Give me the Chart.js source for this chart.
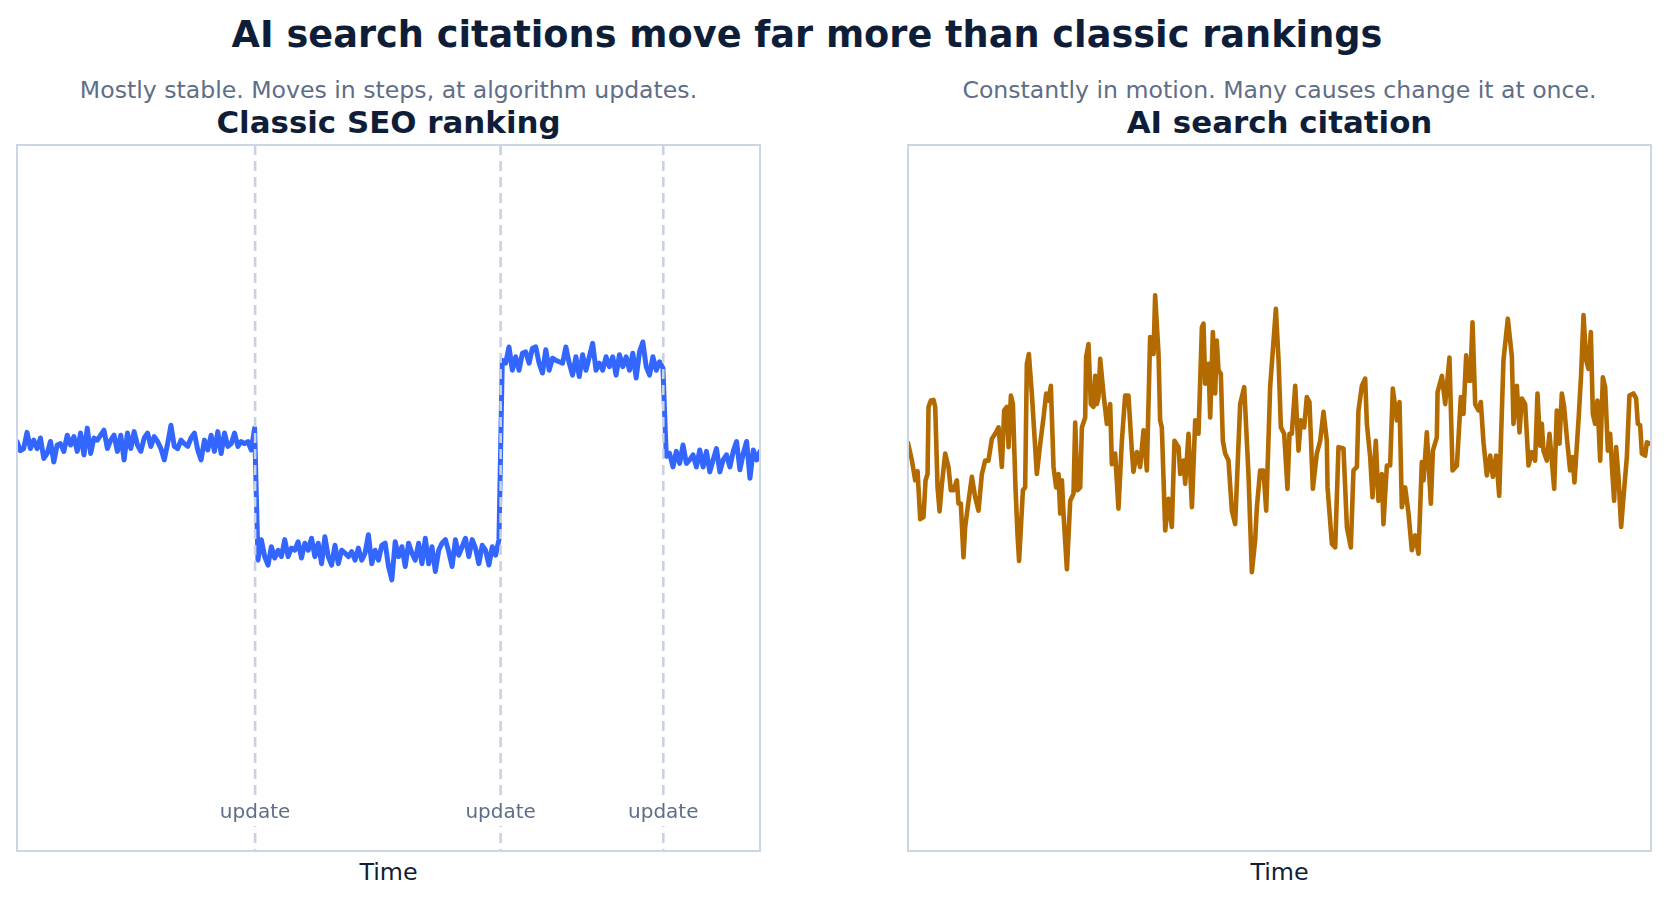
<!DOCTYPE html>
<html>
<head>
<meta charset="utf-8">
<script src="https://cdn.jsdelivr.net/npm/chart.js@4.4.1/dist/chart.umd.min.js"></script>
<style>
  body { margin: 0; width: 1667px; height: 902px; background: #fff; position: relative; overflow: hidden;
         font-family: "DejaVu Sans", sans-serif; }
  .txt { position: absolute; white-space: nowrap; line-height: 1; text-align: center; }
  .title { left: 0; width: 1614px; top: 17px; font-size: 36.7px; font-weight: bold; color: #0f1e38; }
  .sub { top: 79px; font-size: 23.6px; color: #5f6e88; }
  .ptitle { top: 107px; font-size: 30.9px; font-weight: bold; color: #0f1e38; }
  .axis { top: 861px; font-size: 23.8px; color: #0f1e38; }
  .left { left: 0; width: 777px; }
  .right { left: 908px; width: 743px; }
  .box { position: absolute; top: 135px; height: 730px; }
</style>
</head>
<body>
<div class="txt title">AI search citations move far more than classic rankings</div>
<div class="txt sub left">Mostly stable. Moves in steps, at algorithm updates.</div>
<div class="txt sub right">Constantly in motion. Many causes change it at once.</div>
<div class="txt ptitle left">Classic SEO ranking</div>
<div class="txt ptitle right">AI search citation</div>
<div class="txt axis left">Time</div>
<div class="txt axis right">Time</div>
<div class="box" style="left:0;width:780px"><canvas id="classicChart"></canvas></div>
<div class="box" style="left:888px;width:779px"><canvas id="aiChart"></canvas></div>
<script>
// time runs 0..699 on both panels (no tick labels shown)
const timeSpan = 699;
const updateTimes = [224, 455, 608];
const updateLabel = "update";

// classic ranking: four flat stretches split by the updates
const beforeFirstUpdate = [
  58.0, 56.7, 57.0, 59.3, 57.0, 58.2, 57.0, 58.5, 55.6, 56.3,
  58.0, 55.1, 57.5, 57.7, 56.6, 58.9, 57.5, 58.7, 56.6, 59.2,
  56.1, 59.9, 56.3, 58.5, 58.2, 58.9, 59.6, 57.0, 58.2, 58.9,
  56.6, 58.9, 55.4, 59.2, 57.0, 59.4, 57.5, 56.6, 58.5, 59.2,
  57.3, 58.7, 58.0, 57.0, 55.4, 57.7, 60.3, 57.3, 57.0, 58.2,
  57.7, 57.3, 58.5, 59.2, 56.8, 55.4, 58.2, 56.8, 58.9, 56.6,
  59.4, 56.3, 59.2, 57.3, 57.7, 59.2, 57.3, 58.0, 57.7, 58.0,
  56.8, 59.9
];
const afterFirstUpdate = [
  41.2, 44.1, 41.7, 40.5, 43.1, 41.5, 42.6, 41.7, 44.1, 41.7,
  42.9, 42.6, 43.8, 41.5, 43.6, 42.6, 44.3, 41.7, 43.6, 40.7,
  44.5, 41.7, 40.5, 43.3, 40.7, 42.6, 42.2, 41.7, 42.4, 41.2,
  42.9, 41.2, 42.2, 44.8, 40.7, 42.6, 41.2, 43.3, 43.6, 40.3,
  38.4, 43.8, 41.7, 43.1, 40.3, 43.6, 42.2, 41.2, 43.6, 40.7,
  44.3, 40.7, 43.1, 39.6, 42.6, 43.6, 44.1, 42.4, 40.3, 44.1,
  41.9, 43.1, 44.3, 41.7, 44.1, 42.9, 40.7, 43.3, 42.6, 40.5,
  43.1, 41.9, 44.1
];
const afterSecondUpdate = [
  69.5, 69.1, 71.4, 68.1, 70.0, 68.1, 70.5, 70.7, 69.1, 71.2,
  71.4, 69.1, 67.7, 71.0, 68.1, 69.8, 69.5, 69.3, 69.1, 71.4,
  69.1, 67.4, 70.0, 67.2, 70.3, 68.1, 70.0, 71.9, 68.1, 69.1,
  68.1, 70.0, 68.6, 70.0, 67.4, 70.3, 68.6, 70.0, 68.1, 70.5,
  67.0, 70.7, 72.1, 68.6, 67.4, 70.0, 68.1, 69.3, 68.4
];
const afterThirdUpdate = [
  55.9, 56.3, 54.4, 56.6, 54.9, 57.5, 54.9, 55.4, 56.1, 54.4,
  56.8, 54.4, 56.6, 53.7, 55.4, 57.0, 53.7, 55.4, 56.1, 54.4,
  56.6, 58.0, 54.0, 56.3, 58.0, 52.8, 56.8, 55.4, 56.6
];

// AI citation: sampled times and values
const aiTimes = [
  0, 3.7, 6.8, 9.0, 11.5, 14.6, 16.5, 18.4, 19.3, 21.5,
  24.0, 25.6, 27.8, 29.7, 31.9, 35.0, 38.1, 40.3, 42.8, 46.0,
  47.5, 49.7, 52.2, 53.8, 57.0, 60.1, 63.2, 66.3, 69.5, 72.6,
  75.7, 78.9, 82.0, 85.2, 88.3, 90.5, 93.0, 94.6, 96.8, 98.7,
  101.1, 103.0, 104.5, 108.1, 110.2, 111.8, 113.7, 116.5, 121.2, 124.4,
  127.5, 130.0, 132.2, 134.4, 136.9, 139.4, 141.6, 143.2, 144.8, 146.3,
  149.5, 152.6, 155.7, 157.3, 159.5, 162.0, 163.6, 166.7, 167.6, 169.8,
  172.0, 174.5, 176.1, 177.7, 179.2, 180.8, 183.9, 187.1, 190.2, 191.8,
  194.9, 198.0, 201.2, 204.3, 207.4, 210.6, 212.1, 215.3, 218.4, 221.6,
  224.7, 227.8, 231.0, 232.5, 235.7, 237.2, 238.8, 242.0, 245.1, 248.2,
  250.7, 254.5, 256.1, 259.2, 260.8, 263.9, 267.1, 270.2, 273.3, 276.5,
  278.0, 279.6, 282.7, 284.3, 286.8, 289.0, 290.5, 292.1, 294.3, 296.2,
  298.4, 301.5, 304.7, 307.8, 312.5, 316.3, 320.3, 323.5, 326.6, 328.2,
  331.3, 334.4, 337.0, 340.7, 346.1, 348.6, 350.8, 353.9, 357.0, 358.9,
  361.1, 364.3, 367.4, 369.6, 372.7, 375.2, 377.7, 380.9, 384.6, 387.8,
  390.9, 394.0, 394.7, 398.8, 401.9, 405.0, 409.7, 412.9, 416.6, 419.1,
  422.3, 423.8, 427.0, 430.1, 431.7, 434.8, 437.0, 440.1, 442.6, 445.8,
  447.3, 450.5, 453.6, 456.1, 459.9, 462.4, 464.6, 467.7, 470.9, 474.0,
  477.1, 480.3, 483.4, 485.0, 488.1, 491.9, 493.8, 497.5, 498.2, 502.3,
  505.4, 509.4, 512.3, 516.4, 520.1, 522.6, 525.1, 527.3, 528.9, 531.1,
  533.6, 536.7, 538.9, 541.4, 544.6, 547.7, 550.2, 553.3, 556.2, 560.2,
  564.3, 568.1, 569.6, 572.8, 575.3, 577.5, 580.6, 583.8, 586.9, 590.0,
  592.2, 594.7, 596.3, 597.8, 601.0, 603.5, 605.7, 607.9, 610.4, 612.9,
  615.1, 617.3, 619.8, 622.9, 625.1, 627.0, 630.8, 633.3, 635.5, 638.0,
  640.2, 642.4, 644.3, 646.5, 648.6, 651.2, 653.7, 655.9, 658.4, 660.6,
  662.2, 664.3, 666.2, 668.4, 670.9, 673.1, 676.3, 678.7, 682.5, 685.0,
  686.6, 688.8, 690.4, 693.5, 695.1, 697.6
];
const aiValues = [
  57.8, 55.3, 52.5, 53.8, 47.0, 47.3, 52.5, 53.4, 62.9, 63.8,
  63.9, 62.9, 51.5, 48.1, 52.0, 56.3, 54.4, 51.1, 51.1, 52.5,
  49.2, 49.2, 41.6, 45.9, 49.6, 53.0, 50.1, 48.2, 53.4, 55.3,
  55.3, 58.4, 59.1, 60.0, 54.4, 62.4, 62.9, 57.2, 64.5, 63.3,
  51.5, 44.9, 41.1, 51.1, 51.5, 69.0, 70.4, 64.8, 53.4, 57.7,
  61.4, 64.8, 63.8, 65.9, 54.4, 51.5, 53.4, 47.8, 52.5, 47.8,
  39.9, 49.6, 50.6, 60.7, 51.1, 51.5, 60.0, 61.4, 70.0, 71.8,
  63.3, 62.9, 67.3, 63.3, 64.3, 69.7, 64.8, 60.5, 63.3, 54.8,
  56.3, 48.5, 58.1, 64.5, 64.5, 56.7, 53.7, 56.5, 54.4, 59.6,
  53.9, 72.8, 70.4, 78.7, 70.4, 61.0, 60.0, 45.4, 49.9, 45.9,
  58.1, 57.2, 53.4, 55.3, 52.0, 59.1, 48.7, 61.0, 59.1, 74.2,
  74.7, 66.2, 69.0, 61.4, 73.5, 64.8, 72.3, 68.1, 67.6, 58.1,
  56.3, 55.3, 48.2, 46.3, 63.3, 65.7, 53.4, 39.5, 44.0, 48.7,
  53.9, 53.9, 48.2, 65.7, 76.8, 69.5, 60.0, 59.1, 51.3, 59.1,
  59.1, 65.9, 56.7, 61.0, 60.0, 64.3, 63.6, 51.3, 56.3, 58.1,
  62.2, 58.1, 51.5, 43.5, 43.0, 57.2, 57.0, 45.9, 43.0, 53.9,
  54.4, 62.4, 65.9, 66.9, 60.5, 55.8, 50.1, 58.1, 49.6, 53.4,
  46.3, 54.6, 54.6, 65.5, 61.0, 63.6, 48.7, 51.5, 47.8, 42.6,
  44.7, 42.1, 55.1, 52.5, 59.3, 49.2, 56.7, 58.6, 65.0, 67.3,
  63.3, 69.9, 53.9, 54.6, 64.3, 61.9, 70.2, 66.6, 66.6, 74.9,
  63.3, 62.4, 63.6, 57.9, 53.2, 56.0, 53.0, 56.0, 50.3, 69.5,
  75.4, 70.0, 60.5, 65.9, 59.3, 64.1, 63.3, 54.6, 56.5, 55.3,
  64.8, 57.4, 60.5, 56.7, 55.3, 59.1, 55.3, 51.3, 62.4, 57.7,
  64.8, 62.9, 58.6, 53.9, 55.8, 52.2, 61.0, 67.6, 75.9, 69.5,
  68.3, 73.5, 61.9, 60.5, 63.8, 55.3, 67.1, 65.7, 56.7, 59.1,
  54.6, 49.6, 57.2, 53.0, 45.9, 50.1, 55.8, 64.5, 64.8, 64.1,
  60.5, 60.3, 56.3, 56.0, 57.9, 57.7
];

const classicValues = beforeFirstUpdate.concat(afterFirstUpdate, afterSecondUpdate, afterThirdUpdate);
// classic series is sampled on an even time grid
const classicPoints = classicValues.map((v, i) => ({x: i * timeSpan / (classicValues.length - 1), y: v}));
const aiPoints = aiTimes.map((t, i) => ({x: t, y: aiValues[i]}));

// frame round the plot, dashed update markers with their labels
const panelFrame = {
  id: 'panelFrame',
  afterDatasetsDraw(chart, args, opts) {
    const ctx = chart.ctx;
    const a = chart.chartArea;
    const x = chart.scales.x;
    ctx.save();
    (opts.updates || []).forEach(t => {
      const px = x.getPixelForValue(t);
      ctx.strokeStyle = '#c9d1e2';
      ctx.lineWidth = 2.6;
      ctx.setLineDash([10, 6]);
      ctx.beginPath();
      ctx.moveTo(px, a.top);
      ctx.lineTo(px, a.bottom);
      ctx.stroke();
    });
    ctx.setLineDash([]);
    ctx.font = '20px "DejaVu Sans"';
    ctx.textAlign = 'center';
    ctx.textBaseline = 'alphabetic';
    (opts.updates || []).forEach(t => {
      const px = x.getPixelForValue(t);
      const w = ctx.measureText(updateLabel).width;
      ctx.fillStyle = '#ffffff';
      ctx.fillRect(px - w / 2 - 3, a.bottom - 51, w + 6, 26);
      ctx.fillStyle = '#5f6e88';
      ctx.fillText(updateLabel, px, a.bottom - 33);
    });
    ctx.strokeStyle = '#cbd5e3';
    ctx.lineWidth = 2;
    ctx.strokeRect(a.left, a.top, a.right - a.left, a.bottom - a.top);
    ctx.restore();
  }
};

function makeChart(id, points, color, width, updates, pad) {
  return new Chart(id, {
    type: 'line',
    data: {
      datasets: [{
        data: points,
        borderColor: color,
        borderWidth: width,
        pointRadius: 0,
        tension: 0,
        fill: false,
        borderJoinStyle: 'round',
        borderCapStyle: 'round'
      }]
    },
    options: {
      responsive: true,
      maintainAspectRatio: false,
      animation: false,
      events: [],
      layout: {padding: pad},
      plugins: {
        legend: {display: false},
        tooltip: {enabled: false},
        panelFrame: {updates: updates}
      },
      scales: {
        x: {type: 'linear', min: 0, max: timeSpan, display: false},
        y: {min: 0, max: 100, display: false}
      }
    },
    plugins: [panelFrame]
  });
}

makeChart('classicChart', classicPoints, '#3366ff', 5, updateTimes, {left: 17, top: 10, right: 20, bottom: 14});
makeChart('aiChart', aiPoints, '#b36b00', 4.6, [], {left: 20, top: 10, right: 16, bottom: 14});
</script>
</body>
</html>
